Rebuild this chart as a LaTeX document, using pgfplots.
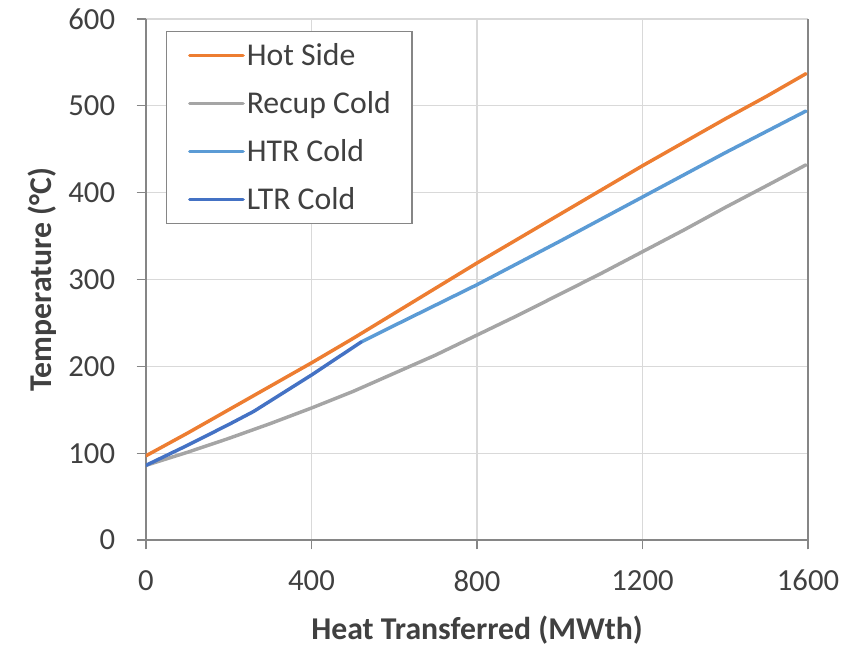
\documentclass[border=0pt]{standalone}
\usepackage{fontspec}
\setmainfont{Carlito}
\usepackage{pgfplots}
\pgfplotsset{compat=1.18}
\definecolor{hotc}{HTML}{ED7D31}
\definecolor{recupc}{HTML}{A5A5A5}
\definecolor{htrc}{HTML}{5B9BD5}
\definecolor{ltrc}{HTML}{4472C4}
\definecolor{axisgray}{HTML}{868686}
\definecolor{gridgray}{HTML}{D9D9D9}
\definecolor{textgray}{HTML}{404040}
\begin{document}
\begin{tikzpicture}
\path[use as bounding box] (-109.5pt,-79.5pt) rectangle (540pt,405pt);
\begin{axis}[
    scale only axis,
    width=496.5pt, height=390.75pt,
    xmin=0, xmax=1600, ymin=0, ymax=600,
    xtick={0,400,...,1600}, ytick={0,100,...,600},
    axis x line*=bottom, axis y line*=left,
    axis line style={draw=axisgray, line width=1.5pt, -},
    tick align=outside, major tick length=7pt,
    tick style={draw=axisgray, line width=1pt},
    grid=major, grid style={draw=gridgray, line width=1pt},
    extra x ticks={1600}, extra x tick labels={},
    extra x tick style={major grid style={draw=axisgray, line width=1.5pt}},
    /pgf/number format/assume math mode=true,
    /pgf/number format/1000 sep={},
    ticklabel style={font=\fontsize{23}{26}\selectfont, text=textgray, inner sep=0pt},
    yticklabel style={anchor=east, xshift=-16pt},
    xticklabel style={anchor=north, yshift=-15.5pt},
    xlabel={\textbf{Heat Transferred (MWth)}},
    ylabel={\textbf{Temperature (°C)}},
    label style={font=\fontsize{23.8}{27}\selectfont, text=textgray},
    xlabel style={at={(axis description cs:0.5,0)}, anchor=center, yshift=-67.5pt},
    ylabel style={at={(axis description cs:0,0.5)}, anchor=center, yshift=78pt},
    legend cell align=left,
    legend style={at={(rel axis cs:0,1)}, xshift=15pt, yshift=-9pt, anchor=north west,
        draw=axisgray, line width=1pt, fill=white, text=textgray,
        font=\fontsize{23.8}{27}\selectfont,
        inner xsep=16pt, inner ysep=9.7pt, row sep=19.3pt, column sep=1.5pt,
        nodes={inner sep=0pt, text height=16pt, text depth=0.7pt}},
    legend image code/.code={\draw[#1] (0pt,0pt) -- (40pt,0pt);},
    every axis plot/.append style={line width=2.6pt, line join=round, line cap=round},
]
\addplot[hotc] coordinates {
    (0,97) (100,123) (200,150) (300,177) (400,204) (500,232) (600,261) (700,290)
    (800,319) (900,347) (1000,375) (1100,403) (1200,431) (1300,458) (1400,485)
    (1500,511) (1595,537)
};
\addplot[recupc] coordinates {
    (0,86) (100,101) (200,117) (300,134) (400,152) (500,171) (600,192) (700,213)
    (800,236) (900,259) (1000,283) (1100,307) (1200,332) (1300,357) (1400,383)
    (1500,408) (1595,432)
};
\addplot[htrc] coordinates {
    (520,228) (600,247) (800,294) (1000,344) (1200,395) (1400,446) (1595,494)
};
\addplot[ltrc] coordinates {
    (0,86) (100,109) (200,133) (260,148) (300,160) (400,190) (520,228)
};
\legend{Hot Side, Recup Cold, HTR Cold, LTR Cold}
\end{axis}
\end{tikzpicture}
\end{document}
